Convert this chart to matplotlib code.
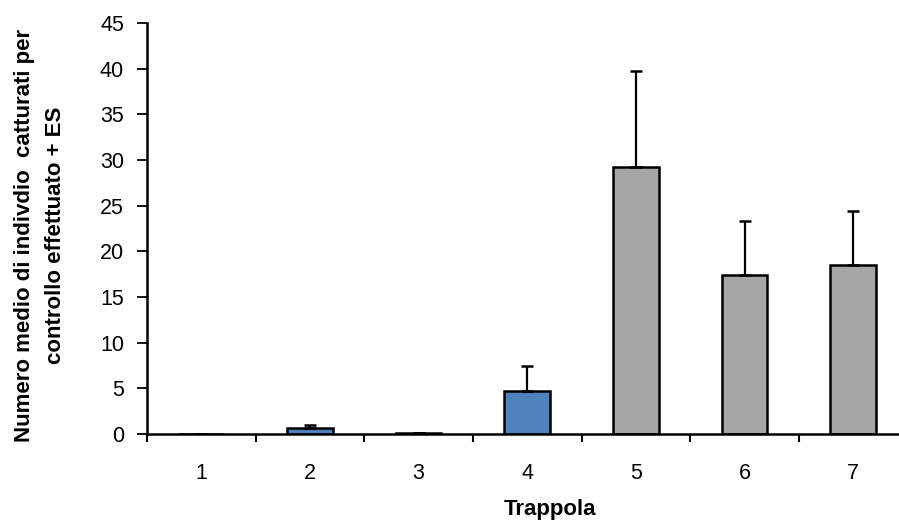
import matplotlib.pyplot as plt
import numpy as np

# Dati
trappole = ['1', '2', '3', '4', '5', '6', '7']
medie = [0.0, 0.6, 0.15, 4.7, 29.2, 17.4, 18.5]
errori = [0.0, 0.4, 0.0, 2.7, 10.6, 5.9, 5.9]
colori = ['#4F81BD', '#4F81BD', '#4F81BD', '#4F81BD', '#A6A6A6', '#A6A6A6', '#A6A6A6']

plt.rcParams['font.family'] = ['Liberation Sans', 'DejaVu Sans']

fig = plt.figure(figsize=(8.99, 5.26), dpi=100)
ax = fig.add_axes([0.1635, 0.175, 0.846, 0.781])

x = np.arange(1, len(trappole) + 1)
ax.bar(x, medie, width=0.42, color=colori, edgecolor='black', linewidth=1.8, zorder=2)
ax.errorbar(x, medie, yerr=[np.zeros(len(errori)), errori], fmt='none',
            ecolor='black', elinewidth=1.6, capsize=4.5, capthick=1.8, zorder=3)

ax.set_xlim(0.5, 7.5)
ax.set_ylim(0, 45)
ax.set_yticks(np.arange(0, 46, 5))
ax.set_xticks(x)
ax.set_xticklabels(trappole)
ax.set_xticks(np.arange(0.5, 7.6, 1), minor=True)

for s in ['top', 'right']:
    ax.spines[s].set_visible(False)
for s in ['left', 'bottom']:
    ax.spines[s].set_linewidth(1.8)

ax.tick_params(axis='x', which='major', length=0, labelsize=15.5, pad=21)
ax.tick_params(axis='x', which='minor', length=6, width=1.5)
ax.tick_params(axis='y', length=7.5, width=1.3, labelsize=15.5, pad=9)

ax.set_xlabel('Trappola', fontsize=16, fontweight='bold', va='center')
ax.xaxis.set_label_coords(0.53, -0.185)
ax.set_ylabel('Numero medio di indivdio  catturati per\ncontrollo effettuato + ES',
              fontsize=16, fontweight='bold', va='center', linespacing=1.6)
ax.yaxis.set_label_coords(-0.141, 0.484)

fig.savefig('out.png', dpi=100)
